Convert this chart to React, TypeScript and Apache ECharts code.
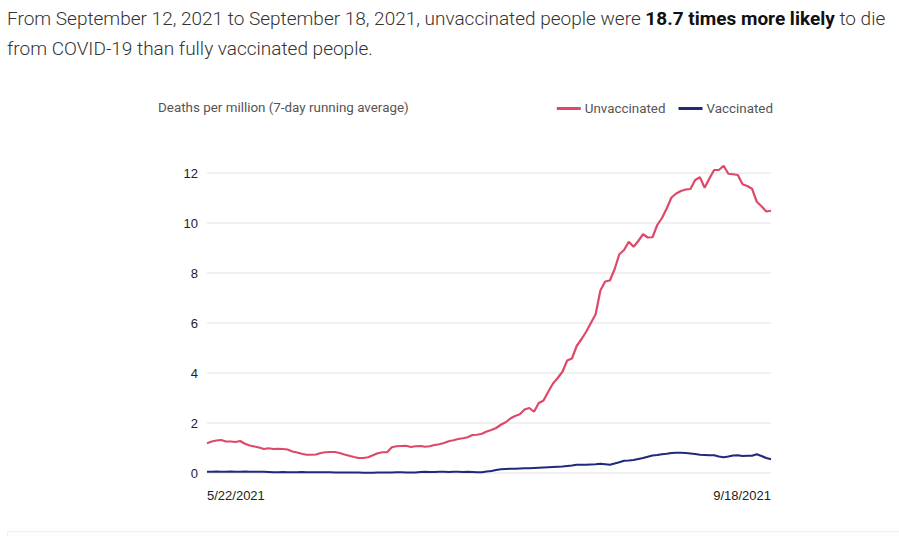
import React, { useEffect, useRef } from "react";
import * as echarts from "echarts";

// 7-day running average deaths per million, 5/22/2021 .. 9/18/2021 (120 days)
const unvaccinated = [
  1.19, 1.26, 1.3, 1.32, 1.26, 1.26, 1.24, 1.28, 1.17, 1.1,
  1.06, 1.02, 0.96, 0.99, 0.96, 0.97, 0.96, 0.94, 0.86, 0.82,
  0.77, 0.73, 0.73, 0.74, 0.8, 0.83, 0.84, 0.84, 0.8, 0.74,
  0.69, 0.64, 0.6, 0.6, 0.63, 0.71, 0.79, 0.83, 0.83, 1.03,
  1.07, 1.08, 1.09, 1.04, 1.07, 1.08, 1.05, 1.07, 1.12, 1.15,
  1.2, 1.27, 1.31, 1.36, 1.39, 1.43, 1.52, 1.53, 1.57, 1.66,
  1.72, 1.8, 1.93, 2.03, 2.18, 2.28, 2.35, 2.54, 2.6, 2.45,
  2.8, 2.9, 3.25, 3.58, 3.8, 4.05, 4.5, 4.58, 5.08, 5.35,
  5.65, 6.0, 6.35, 7.3, 7.66, 7.7, 8.15, 8.75, 8.92, 9.25,
  9.05, 9.28, 9.55, 9.42, 9.43, 9.92, 10.2, 10.58, 11.02, 11.18,
  11.28, 11.34, 11.36, 11.72, 11.83, 11.41, 11.78, 12.12, 12.12, 12.29,
  11.97, 11.95, 11.92, 11.55, 11.48, 11.37, 10.85, 10.67, 10.46, 10.49,
];

const vaccinated = [
  0.05, 0.05, 0.06, 0.05, 0.05, 0.06, 0.05, 0.05, 0.06, 0.05,
  0.05, 0.05, 0.05, 0.04, 0.03, 0.03, 0.04, 0.03, 0.03, 0.03,
  0.04, 0.03, 0.03, 0.03, 0.03, 0.03, 0.03, 0.02, 0.02, 0.02,
  0.02, 0.02, 0.02, 0.01, 0.01, 0.01, 0.02, 0.02, 0.02, 0.02,
  0.03, 0.03, 0.02, 0.02, 0.02, 0.04, 0.05, 0.04, 0.04, 0.05,
  0.05, 0.04, 0.05, 0.05, 0.04, 0.05, 0.04, 0.03, 0.03, 0.06,
  0.08, 0.12, 0.15, 0.16, 0.17, 0.17, 0.18, 0.19, 0.19, 0.2,
  0.21, 0.22, 0.23, 0.24, 0.25, 0.26, 0.28, 0.3, 0.33, 0.33,
  0.33, 0.34, 0.35, 0.37, 0.35, 0.33, 0.38, 0.43, 0.49, 0.5,
  0.52, 0.56, 0.6, 0.65, 0.7, 0.72, 0.75, 0.77, 0.8, 0.81,
  0.81, 0.8, 0.78, 0.76, 0.73, 0.72, 0.71, 0.71, 0.66, 0.63,
  0.66, 0.7, 0.71, 0.68, 0.69, 0.69, 0.75, 0.68, 0.6, 0.55,
];

const startDate = "5/22/2021";
const endDate = "9/18/2021";
const xTickLabels = [startDate, endDate];
const yTicks = [0, 2, 4, 6, 8, 10, 12];

const seriesNames = ["Unvaccinated", "Vaccinated"];
const seriesColors = ["#de4969", "#1f2a78"];

function buildDates(start: string, count: number): string[] {
  const [m, d, y] = start.split("/").map(Number);
  const out: string[] = [];
  for (let i = 0; i < count; i++) {
    const dt = new Date(Date.UTC(y, m - 1, d + i));
    out.push(`${dt.getUTCMonth() + 1}/${dt.getUTCDate()}/${dt.getUTCFullYear()}`);
  }
  return out;
}

const categories = buildDates(startDate, unvaccinated.length);

export default function App() {
  const ref = useRef<HTMLDivElement>(null);

  useEffect(() => {
    if (!ref.current) return;
    const chart = echarts.init(ref.current, null, { renderer: "svg" });
    const option: any = {
      animation: false,
      backgroundColor: "#ffffff",
      title: [
        {
          left: 7,
          top: 3,
          text:
            "From September 12, 2021 to September 18, 2021, unvaccinated people were {b|18.7 times more likely} to die\nfrom COVID-19 than fully vaccinated people.",
          textStyle: {
            fontFamily: "Roboto",
            fontSize: 19,
            fontWeight: 300,
            color: "#333333",
            lineHeight: 30,
            rich: {
              b: {
                fontFamily: "Roboto",
                fontSize: 19,
                fontWeight: 700,
                color: "#111111",
                lineHeight: 30,
              },
            },
          },
          padding: 0,
        },
        {
          left: 158,
          top: 101,
          text: "Deaths per million (7-day running average)",
          textStyle: {
            fontFamily: "Roboto",
            fontSize: 13.4,
            fontWeight: 400,
            color: "#555555",
          },
          padding: 0,
        },
      ],
      legend: {
        right: 126,
        top: 102,
        data: seriesNames,
        icon: "rect",
        itemWidth: 24,
        itemHeight: 3,
        itemGap: 13,
        textStyle: {
          fontFamily: "Roboto",
          fontSize: 13.4,
          color: "#555555",
          padding: [0, 0, 0, -1],
        },
        padding: 0,
      },
      grid: {
        left: 207,
        right: 128,
        top: 173,
        bottom: 63,
        containLabel: false,
      },
      xAxis: {
        type: "category",
        data: categories,
        boundaryGap: false,
        axisLine: { show: false },
        axisTick: { show: false },
        splitLine: { show: false },
        axisLabel: {
          interval: (idx: number, val: string) => xTickLabels.includes(val),
          alignMinLabel: "left",
          alignMaxLabel: "right",
          margin: 16,
          fontFamily: "Liberation Sans",
          fontSize: 13,
          color: "#222222",
        },
      },
      yAxis: {
        type: "value",
        min: yTicks[0],
        max: yTicks[yTicks.length - 1],
        interval: 2,
        axisLine: { show: false },
        axisTick: { show: false },
        axisLabel: {
          margin: 9,
          fontFamily: "Liberation Sans",
          fontSize: 13,
          color: "#222222",
        },
        splitLine: { lineStyle: { color: "#f0f0f0", width: 2 } },
      },
      series: [
        {
          name: seriesNames[0],
          type: "line",
          data: unvaccinated,
          showSymbol: false,
          clip: false,
          color: seriesColors[0],
          lineStyle: { width: 2.2, color: seriesColors[0] },
        },
        {
          name: seriesNames[1],
          type: "line",
          data: vaccinated,
          showSymbol: false,
          clip: false,
          color: seriesColors[1],
          lineStyle: { width: 2.2, color: seriesColors[1] },
        },
      ],
      graphic: [
        {
          type: "rect",
          left: 7,
          top: 531,
          shape: { width: 900, height: 20 },
          style: { fill: "#fdfdfd", stroke: "#eeeeee", lineWidth: 1 },
        },
      ],
    };
    chart.setOption(option);
    return () => chart.dispose();
  }, []);

  return (
    <div
      ref={ref}
      style={{ position: "fixed", left: 0, top: 0, width: 899, height: 536 }}
    />
  );
}
